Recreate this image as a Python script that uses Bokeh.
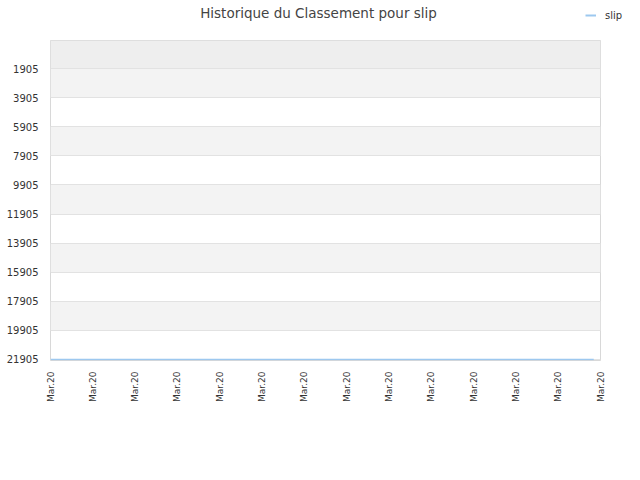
import math
from bokeh.plotting import figure
from bokeh.layouts import column
from bokeh.models import Range1d, FixedTicker, BoxAnnotation, Legend, LegendItem, Label
from bokeh.embed import file_html
from bokeh.resources import INLINE

title_text = "Historique du Classement pour slip"
series_name = "slip"
series_x = [0, 12.84]
series_rank = [21905, 21905]
x_ticks = list(range(14))
x_labels = ["Mar.20"] * 14
y_ticks = [1905, 3905, 5905, 7905, 9905, 11905, 13905, 15905, 17905, 19905, 21905]
y_top = -30
y_bottom = 21975
x_end = 13

line_color = "#9dc8ef"
line_width = 2

# header strip: title + legend
header = figure(frame_width=640, frame_height=40, output_backend="svg", toolbar_location=None,
                x_range=Range1d(0, 640), y_range=Range1d(40, 0),
                min_border_left=0, min_border_right=0, min_border_top=0, min_border_bottom=0,
                x_axis_type=None, y_axis_type=None)
header.outline_line_color = None
header.xgrid.visible = False
header.ygrid.visible = False
header.background_fill_color = "white"
header.border_fill_color = "white"
header.add_layout(Label(x=268, y=28, x_units="screen", y_units="screen", text=title_text,
                        text_align="center", text_baseline="middle", text_font_size="13.5px",
                        text_color="#444444", text_font="DejaVu Sans"))
# legend key renderer (its data lies outside the header's ranges, only its style is shown)
lr = header.line(series_x, series_rank, line_color=line_color, line_width=line_width)
legend = Legend(items=[LegendItem(label=series_name, renderers=[lr])], location=(585, 19),
                glyph_width=11, glyph_height=12, label_height=12, label_width=17,
                label_standoff=9, padding=0, margin=0, spacing=0, border_line_color=None,
                background_fill_alpha=0, label_text_font_size="10px",
                label_text_font="DejaVu Sans", label_text_color="#333333")
header.add_layout(legend)

# main chart
p = figure(width=640, height=440, output_backend="svg", toolbar_location=None,
           x_range=Range1d(0, x_end), y_range=Range1d(y_bottom, y_top),
           min_border_left=50, min_border_right=40, min_border_top=0, min_border_bottom=120)
p.background_fill_color = "white"
p.border_fill_color = "white"
p.outline_line_color = "#d8d8d8"
p.outline_line_width = 1

p.add_layout(BoxAnnotation(bottom=y_ticks[0], top=y_top, fill_color="#eeeeee", fill_alpha=1,
                           line_color=None, level="image"))
for i in range(0, len(y_ticks) - 1, 2):
    p.add_layout(BoxAnnotation(bottom=y_ticks[i + 1], top=y_ticks[i], fill_color="#f3f3f3",
                               fill_alpha=1, line_color=None, level="image"))

p.xgrid.grid_line_color = None
p.ygrid.ticker = FixedTicker(ticks=y_ticks)
p.ygrid.grid_line_color = "#e2e2e2"

r = p.line(series_x, series_rank, line_color=line_color, line_width=1.6)

for ax in (p.xaxis[0], p.yaxis[0]):
    ax.axis_line_color = None
    ax.major_tick_line_color = None
    ax.minor_tick_line_color = None
    ax.major_tick_out = 0
    ax.major_tick_in = 0
    ax.major_label_text_font = "DejaVu Sans"
    ax.major_label_text_color = "#333333"

p.yaxis.ticker = FixedTicker(ticks=y_ticks)
p.yaxis.major_label_text_font_size = "10px"
p.yaxis.major_label_standoff = 12

p.xaxis.ticker = FixedTicker(ticks=x_ticks)
p.xaxis.major_label_overrides = {t: lab for t, lab in zip(x_ticks, x_labels)}
p.xaxis.major_label_orientation = math.pi / 2
p.xaxis.major_label_text_font_size = "9px"
p.xaxis.major_label_standoff = 11

page = column(header, p, spacing=0)
open("out.html", "w").write(file_html(page, INLINE))
